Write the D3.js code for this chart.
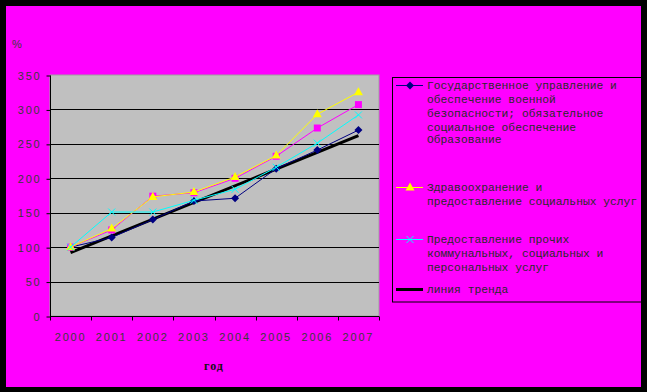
<!DOCTYPE html>
<html><head><meta charset="utf-8">
<script src="https://cdn.jsdelivr.net/npm/d3@7"></script>
<style>
html,body{margin:0;padding:0;background:#000;}
svg{display:block;}
</style></head>
<body>
<svg id="chart" width="647" height="392"></svg>
<script>
const years = ["2000","2001","2002","2003","2004","2005","2006","2007"];
const yTicks = [0,50,100,150,200,250,300,350];
const govValues    = [100,114,140,167,171,214,241,270];
const eduValues    = [100,125,174,179,200,232,273,307];
const healthValues = [100,127,173,180,202,233,293,325];
const otherValues  = [100,151,151,168,184,216,251,292];
const trendYears   = ["2000","2007"];
const trendValues  = [92,262];
const legendLabels = [
  ["Государственное управление и","обеспечение военной","безопасности; обязательное","социальное обеспечение"],
  ["Образование"],
  ["Здравоохранение и","предоставление социальных услуг"],
  ["Предоставление прочих","коммунальных, социальных и","персональных услуг"],
  ["линия тренда"]
];
const yAxisTitle = "%";
const xAxisTitle = "год";

const svg = d3.select("#chart");
svg.append("rect").attr("x",6).attr("y",6).attr("width",635).attr("height",381).attr("fill","#FF00FF");

const x = d3.scaleBand().domain(years).range([50,379]).padding(0);
const y = d3.scaleLinear().domain([0,350]).range([316,75]);
const cx = d => x(d) + x.bandwidth()/2;

// plot area
svg.append("rect").attr("x",50).attr("y",75).attr("width",329).attr("height",241)
  .attr("fill","#C0C0C0").attr("stroke","#A0A0A0").attr("stroke-width",1);

// gridlines
svg.append("g").selectAll("line").data(yTicks.filter(v=>v>0 && v<350)).join("line")
  .attr("x1",50).attr("x2",379).attr("y1",d=>Math.round(y(d))+0.5).attr("y2",d=>Math.round(y(d))+0.5)
  .attr("stroke","#000").attr("stroke-width",1);

const tickFont = "'Liberation Sans', Arial, sans-serif";
// y axis
const yAxis = d3.axisLeft(y).tickValues(yTicks).tickSize(4).tickPadding(6).tickFormat(d3.format("d"));
const gy = svg.append("g").attr("transform","translate(50.5,0.5)").call(yAxis);
gy.select(".domain").attr("stroke","#000").attr("d","M0,"+(y(350))+"V"+y(0));
gy.selectAll(".tick line").attr("stroke","#000");
gy.selectAll("text").attr("font-family",tickFont).attr("font-size","11px").attr("fill","#3a3a3a")
  .attr("letter-spacing","1.8px").attr("x",-9);

// x axis
const xAxis = d3.axisBottom(x).tickSize(0).tickPadding(0);
const gx = svg.append("g").attr("transform","translate(0,316.5)").call(xAxis);
gx.select(".domain").attr("stroke","#000").attr("d","M50,0H379");
gx.selectAll(".tick text").attr("font-family",tickFont).attr("font-size","11px").attr("fill","#3a3a3a")
  .attr("letter-spacing","1.8px").attr("y",17);
gx.append("g").selectAll("line").data(years.concat(["end"])).join("line")
  .attr("x1",(d,i)=>Math.round(i<years.length ? x(d) : x(years[years.length-1])+x.bandwidth())+0.5)
  .attr("x2",(d,i)=>Math.round(i<years.length ? x(d) : x(years[years.length-1])+x.bandwidth())+0.5)
  .attr("y1",0).attr("y2",4).attr("stroke","#000");

// titles
svg.append("text").attr("x",17).attr("y",48).attr("text-anchor","middle")
  .attr("font-family",tickFont).attr("font-size","11px").attr("fill","#3a3a3a").text(yAxisTitle);
svg.append("text").attr("x",214).attr("y",370).attr("text-anchor","middle")
  .attr("font-family","'Liberation Serif', serif").attr("font-weight","bold").attr("font-size","12px")
  .attr("fill","#111").attr("letter-spacing","1px").text(xAxisTitle);

const line = d3.line().x(d=>cx(d[0])).y(d=>y(d[1]));

// trend
svg.append("path").datum(trendYears.map((yr,i)=>[yr,trendValues[i]])).attr("d",line)
  .attr("fill","none").attr("stroke","#000").attr("stroke-width",3);

const series = [
  {vals:govValues, color:"#000080", marker:"diamond"},
  {vals:eduValues, color:"#FF00FF", marker:"square"},
  {vals:healthValues, color:"#FFFF00", marker:"triangle"},
  {vals:otherValues, color:"#00FFFF", marker:"x"}
];
function drawMarker(g, type, color, px, py){
  if(type==="diamond"){
    g.append("path").attr("d",`M${px},${py-4}L${px+4},${py}L${px},${py+4}L${px-4},${py}Z`).attr("fill",color);
  } else if(type==="square"){
    g.append("rect").attr("x",px-3.5).attr("y",py-3.5).attr("width",7).attr("height",7).attr("fill",color);
  } else if(type==="triangle"){
    g.append("path").attr("d",`M${px},${py-5}L${px+4.5},${py+3}L${px-4.5},${py+3}Z`).attr("fill",color);
  } else if(type==="x"){
    g.append("path").attr("d",`M${px-3.5},${py-3.5}L${px+3.5},${py+3.5}M${px+3.5},${py-3.5}L${px-3.5},${py+3.5}`)
      .attr("stroke",color).attr("stroke-width",1);
  }
}
series.forEach(s=>{
  const g = svg.append("g");
  g.append("path").datum(years.map((yr,i)=>[yr,s.vals[i]])).attr("d",line)
    .attr("fill","none").attr("stroke",s.color).attr("stroke-width",1);
  years.forEach((yr,i)=>drawMarker(g,s.marker,s.color,cx(yr),y(s.vals[i])));
});

// legend
svg.append("rect").attr("x",392.5).attr("y",77.5).attr("width",249).attr("height",224.5)
  .attr("fill","#FF00FF").attr("stroke","#000").attr("stroke-width",1);
const legendY = [85,139,187,239,289];
const legendMarkers = [
  {color:"#000080", marker:"diamond", w:1},
  {color:"#FF00FF", marker:"square", w:1},
  {color:"#FFFF00", marker:"triangle", w:1},
  {color:"#00FFFF", marker:"x", w:1},
  {color:"#000", marker:null, w:3}
];
const lg = svg.append("g");
legendLabels.forEach((lines,i)=>{
  const ly = legendY[i];
  const m = legendMarkers[i];
  lg.append("line").attr("x1",396).attr("x2",423).attr("y1",ly+0.5).attr("y2",ly+0.5)
    .attr("stroke",m.color).attr("stroke-width",m.w);
  if(m.marker) drawMarker(lg,m.marker,m.color,410,ly+0.5);
  lines.forEach((t,j)=>{
    lg.append("text").attr("x",427).attr("y",ly+14*j+4).attr("font-family","'Liberation Mono', monospace")
      .attr("font-size","11.3px").attr("fill","#2a2a2a").text(t);
  });
});
</script>
</body></html>
